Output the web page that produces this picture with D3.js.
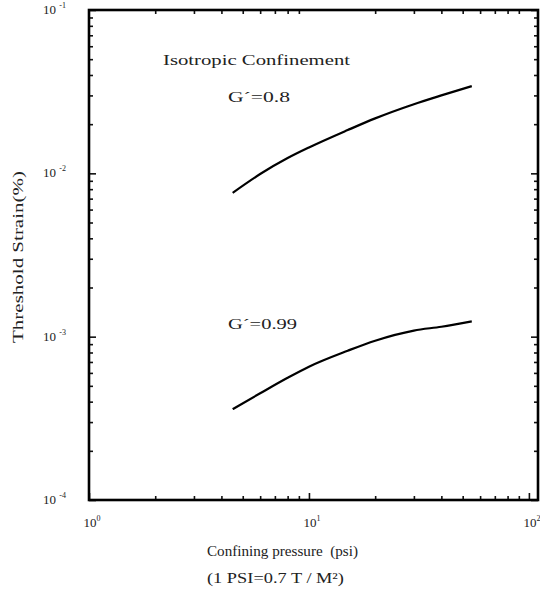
<!DOCTYPE html>
<html>
<head>
<meta charset="utf-8">
<script src="https://cdn.jsdelivr.net/npm/d3@7"></script>
<style>
  body { margin: 0; background: #fff; }
  text { font-family: "Liberation Serif", "DejaVu Serif", serif; fill: #222; }
</style>
</head>
<body>
<svg id="chart" width="540" height="589"></svg>
<script>
// Pressure values (psi)
const pressure = [4.5, 6, 8, 10, 15, 20, 30, 40, 55];
// Threshold strain (%) for G'=0.8
const strainG08 = [7.6e-3, 9.9e-3, 1.24e-2, 1.44e-2, 1.84e-2, 2.17e-2, 2.65e-2, 3.0e-2, 3.42e-2];
// Threshold strain (%) for G'=0.99
const strainG099 = [3.6e-4, 4.5e-4, 5.6e-4, 6.55e-4, 8.2e-4, 9.45e-4, 1.09e-3, 1.15e-3, 1.24e-3];

const xMajor = [1, 10, 100];
const xLabelsExp = ["0", "1", "2"];
const yMajor = [1e-1, 1e-2, 1e-3, 1e-4];
const yLabelsExp = ["-1", "-2", "-3", "-4"];

let svg = d3.select("#chart");

let x = d3.scaleLog().domain([1, 110]).range([89, 538]);
let y = d3.scaleLog().domain([1e-4, 1e-1]).range([500, 10]);

// minor ticks for each decade
function minorTicks(lo, hi) {
    let t = [];
    for (let e = lo; e < hi; e++) {
        for (let m = 2; m <= 9; m++) t.push(m * Math.pow(10, e));
    }
    return t;
}
let xMinor = minorTicks(0, 2).filter(v => v <= 110);
let yMinor = minorTicks(-4, -1);

// Axes: ticks point inward
function addAxis(axisFn, scale, transform, values, size) {
    let g = svg.append("g")
        .attr("transform", transform)
        .call(axisFn(scale).tickValues(values).tickSize(-size).tickFormat(""));
    g.select(".domain").remove();
    g.selectAll("line").attr("stroke", "#111").attr("stroke-width", 1.6);
}
addAxis(d3.axisBottom, x, "translate(0,500)", xMajor, 7);
addAxis(d3.axisBottom, x, "translate(0,500)", xMinor, 4);
addAxis(d3.axisTop, x, "translate(0,10)", xMinor, 4);
addAxis(d3.axisLeft, y, "translate(89,0)", yMajor, 7);
addAxis(d3.axisLeft, y, "translate(89,0)", yMinor, 4);
addAxis(d3.axisRight, y, "translate(538,0)", yMajor, 7);
addAxis(d3.axisRight, y, "translate(538,0)", yMinor, 4);

// Frame
svg.append("rect")
    .attr("x", 89).attr("y", 10)
    .attr("width", 538 - 89).attr("height", 490)
    .attr("fill", "none")
    .attr("stroke", "#000")
    .attr("stroke-width", 2.6);

// Tick labels
xMajor.forEach(function (v, i) {
    let t = svg.append("text")
        .attr("x", x(v) + 3)
        .attr("y", 527)
        .attr("text-anchor", "middle")
        .attr("font-size", 13);
    t.append("tspan").text("10");
    t.append("tspan").attr("dy", -6).attr("font-size", 8).text(xLabelsExp[i]);
});
yMajor.forEach(function (v, i) {
    let t = svg.append("text")
        .attr("x", 66)
        .attr("y", y(v) + 4)
        .attr("text-anchor", "end")
        .attr("font-size", 13);
    t.append("tspan").text("10 ");
    t.append("tspan").attr("dy", -6).attr("font-size", 8).text(yLabelsExp[i]);
});

// Curves
let line = d3.line()
    .x(function (d) { return x(d[0]); })
    .y(function (d) { return y(d[1]); })
    .curve(d3.curveMonotoneX);

[strainG08, strainG099].forEach(function (s) {
    svg.append("path")
        .datum(pressure.map(function (p, i) { return [p, s[i]]; }))
        .attr("d", line)
        .attr("fill", "none")
        .attr("stroke", "#000")
        .attr("stroke-width", 2.2);
});

// text helper, stretched to the width seen in the scan (wide typeface)
function label(txt, xp, yp, w, anchor) {
    return svg.append("text")
        .attr("x", xp).attr("y", yp)
        .attr("font-size", 15)
        .attr("text-anchor", anchor || "start")
        .attr("textLength", w)
        .attr("lengthAdjust", "spacingAndGlyphs")
        .text(txt);
}

// Annotations
label("Isotropic Confinement", 163, 65, 187);
label("G´=0.8", 228, 102, 62);
label("G´=0.99", 228, 329, 69);

// Axis titles
label("Threshold Strain(%)", 0, 0, 172, "middle")
    .attr("transform", "translate(23,257) rotate(-90)");
label("Confining pressure\u00a0\u00a0(psi)", 207, 556, 151);
label("(1 PSI=0.7 T / M²)", 207, 583, 137);
</script>
</body>
</html>
